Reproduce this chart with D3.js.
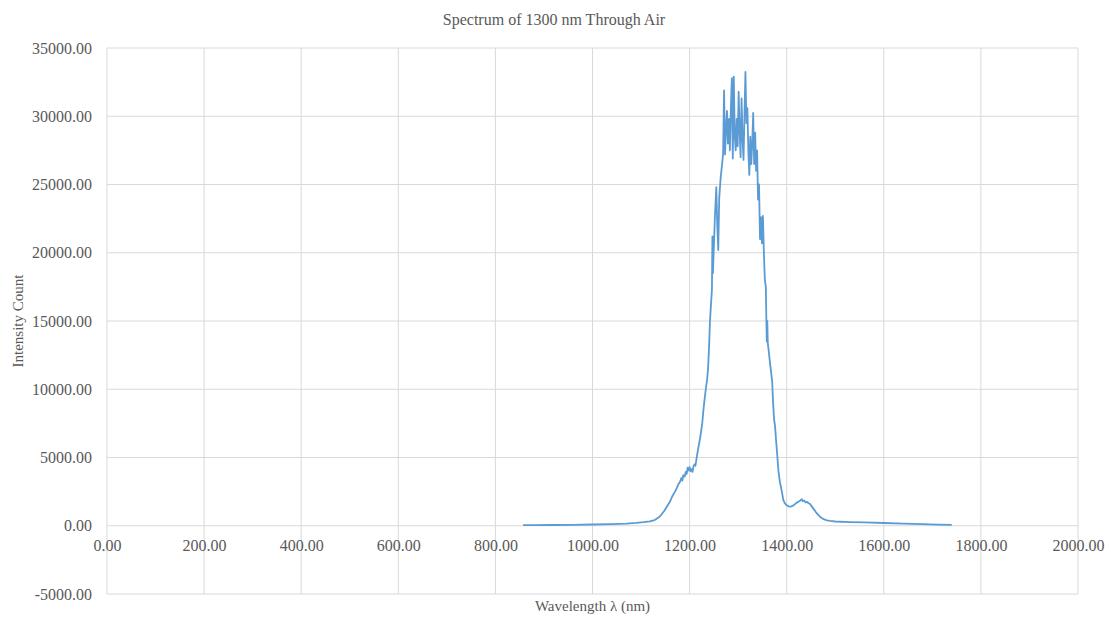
<!DOCTYPE html>
<html>
<head>
<meta charset="utf-8">
<script src="https://cdn.jsdelivr.net/npm/d3@7"></script>
<style>
  html, body { margin: 0; padding: 0; background: #fff; }
  svg { display: block; }
  text { font-family: "Liberation Serif", "Times New Roman", serif; fill: #595959; }
</style>
</head>
<body>
<svg id="chart" width="1111" height="617"></svg>
<script>
// Measured spectrum: wavelength (nm) and detector intensity count
const wavelength = [
  857, 880, 920, 960, 1000, 1040, 1070, 1090, 1105, 1118, 1128, 1136, 1142, 1148, 1154, 1160,
  1165, 1170, 1174, 1177, 1180, 1183, 1185, 1187, 1190, 1192, 1194, 1196, 1198, 1200, 1202, 1204,
  1206, 1208, 1210, 1212, 1214, 1216, 1218, 1220, 1222, 1224, 1226, 1228, 1230, 1232, 1234, 1236,
  1238, 1240, 1242, 1244, 1246, 1247, 1248, 1250, 1252, 1255, 1257, 1259, 1261, 1264, 1267, 1269,
  1271, 1273, 1275, 1277, 1279, 1281, 1283, 1285, 1287, 1289, 1291, 1293, 1295, 1297, 1299, 1301,
  1303, 1305, 1307, 1309, 1311, 1313, 1315, 1317, 1319, 1321, 1323, 1325, 1327, 1329, 1331, 1333,
  1335, 1337, 1339, 1341, 1343, 1345, 1347, 1349, 1351, 1353, 1355, 1357, 1358, 1359, 1360, 1361,
  1363, 1366, 1368, 1370, 1372, 1374, 1376, 1378, 1380, 1383, 1386, 1390, 1393, 1396, 1400, 1404,
  1408, 1412, 1416, 1420, 1424, 1428, 1431, 1433, 1436, 1439, 1442, 1445, 1448, 1452, 1456, 1460,
  1465, 1470, 1476, 1483, 1490, 1500, 1530, 1560, 1600, 1640, 1680, 1710, 1740
];
const intensity = [
  40, 45, 55, 70, 90, 120, 160, 210, 260, 320, 420, 600, 820, 1100, 1450, 1800,
  2200, 2500, 2800, 3050, 3200, 3500, 3300, 3700, 3600, 3950, 3800, 4250, 4050, 4300, 4000, 4150,
  3950, 4350, 4500, 4400, 4850, 5300, 5700, 6100, 6500, 7000, 7500, 8300, 9000, 9600, 10200, 10700,
  11500, 13000, 15000, 16200, 17300, 21200, 18500, 20500, 22500, 24800, 22000, 20200, 24000, 25500, 26500, 27300,
  31900, 27200, 29000, 30400, 28000, 29800, 27500, 30500, 32800, 26900, 32900, 28500, 27500, 29800, 27800, 31800,
  29000, 27000, 31300, 28500, 26800, 30000, 33250, 29500, 30600, 27500, 25700, 28500, 26500, 28000, 30240, 26500,
  28800, 26000, 27500, 23900, 25000, 21000, 22600, 20700, 22700, 20000, 18000, 17500, 15300, 13500, 15000, 13400,
  12800, 11800, 11200, 10600, 9000, 7800, 7300, 6300, 5400, 4000, 3200, 2500, 1900, 1650, 1500, 1420,
  1400, 1450, 1550, 1680, 1750, 1850, 1950, 1800, 1850, 1700, 1750, 1650, 1600, 1400, 1200, 1000,
  800, 620, 480, 400, 350, 310, 270, 240, 200, 160, 120, 85, 60
];

const xTicks = [0, 200, 400, 600, 800, 1000, 1200, 1400, 1600, 1800, 2000];
const yTicks = [-5000, 0, 5000, 10000, 15000, 20000, 25000, 30000, 35000];

const chartTitle = "Spectrum of 1300 nm Through Air";
const xTitle = "Wavelength \u03bb (nm)";
const yTitle = "Intensity Count";

const svg = d3.select("#chart");
const margin = { left: 107, right: 33, top: 48, bottom: 23 };
const W = 1111, H = 617;
const x = d3.scaleLinear().domain([0, 2000]).range([margin.left, W - margin.right]);
const y = d3.scaleLinear().domain([-5000, 35000]).range([H - margin.bottom, margin.top]);
// two decimals with a plain hyphen for negatives
const fmt = d => (d < 0 ? "-" : "") + Math.abs(d).toFixed(2);
const gridColor = "#d9d9d9";

// Gridlines
svg.append("g")
  .selectAll("line").data(xTicks).join("line")
  .attr("x1", d => x(d)).attr("x2", d => x(d))
  .attr("y1", y(35000)).attr("y2", y(-5000))
  .attr("stroke", gridColor).attr("stroke-width", 1);
svg.append("g")
  .selectAll("line").data(yTicks).join("line")
  .attr("x1", x(0)).attr("x2", x(2000))
  .attr("y1", d => y(d)).attr("y2", d => y(d))
  .attr("stroke", gridColor).attr("stroke-width", 1);

// Y axis labels
const yAxis = d3.axisLeft(y).tickValues(yTicks).tickFormat(fmt).tickSize(0).tickPadding(15);
const gy = svg.append("g").attr("transform", `translate(${x(0)},0)`).call(yAxis);
gy.select(".domain").remove();
gy.selectAll("text").style("font-size", "16px").style("font-family", "'Liberation Serif', serif").attr("fill", "#595959");

// X axis labels sit just under the zero line
const xAxis = d3.axisBottom(x).tickValues(xTicks).tickFormat(fmt).tickSize(0).tickPadding(14);
const gx = svg.append("g").attr("transform", `translate(0,${y(0)})`).call(xAxis);
gx.select(".domain").remove();
gx.selectAll("text").style("font-size", "16px").style("font-family", "'Liberation Serif', serif").attr("fill", "#595959");

// Spectrum line
const pts = wavelength.map((w, i) => [w, intensity[i]]);
const line = d3.line().x(d => x(d[0])).y(d => y(d[1]));
svg.append("path")
  .datum(pts)
  .attr("d", line)
  .attr("fill", "none")
  .attr("stroke", "#5b9bd5")
  .attr("stroke-width", 1.8)
  .attr("stroke-linejoin", "round");

// Titles
svg.append("text")
  .attr("x", 554).attr("y", 25)
  .attr("text-anchor", "middle")
  .style("font-size", "16px")
  .text(chartTitle);

svg.append("text")
  .attr("x", (x(0) + x(2000)) / 2).attr("y", 611)
  .attr("text-anchor", "middle")
  .style("font-size", "15px")
  .text(xTitle);

svg.append("text")
  .attr("transform", `translate(23,${(y(35000) + y(-5000)) / 2}) rotate(-90)`)
  .attr("text-anchor", "middle")
  .style("font-size", "15px")
  .text(yTitle);
</script>
</body>
</html>
